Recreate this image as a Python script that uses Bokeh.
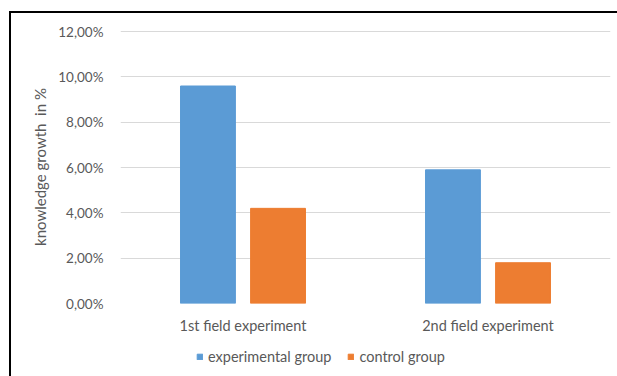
from bokeh.plotting import figure
from bokeh.models import (FactorRange, Range1d, CustomJSTickFormatter, FixedTicker,
                          ColumnDataSource, Legend, LegendItem, Div, Spacer)
from bokeh.layouts import column, row
from bokeh.transform import dodge
from bokeh.embed import file_html
from bokeh.resources import INLINE

categories = ["1st field experiment", "2nd field experiment"]
experimental_group = [9.6, 5.9]
control_group = [4.2, 1.8]
y_ticks = [0, 2, 4, 6, 8, 10, 12]
series_names = ["experimental group", "control group"]
series_colors = ["#5B9BD5", "#ED7D31"]

FONT = "Lato"
TXT = "#595959"

src = ColumnDataSource(dict(cat=categories, exp=experimental_group, ctl=control_group))

# main chart
p = figure(width=606, height=327, x_range=FactorRange(*categories, range_padding=0),
           y_range=Range1d(0, 12.05), output_backend="svg", toolbar_location=None,
           min_border_left=109, min_border_right=7, min_border_top=17, min_border_bottom=37)
p.margin = 0
p.outline_line_color = None
p.background_fill_color = "white"
p.border_fill_color = "white"

p.vbar(x=dodge("cat", -0.143, range=p.x_range), top="exp", width=0.224,
       source=src, color=series_colors[0])
p.vbar(x=dodge("cat", 0.143, range=p.x_range), top="ctl", width=0.224,
       source=src, color=series_colors[1])

p.xgrid.grid_line_color = None
p.ygrid.grid_line_color = "#d9d9d9"
p.ygrid.grid_line_width = 1

yax = p.yaxis[0]
yax.ticker = FixedTicker(ticks=y_ticks)
yax.formatter = CustomJSTickFormatter(code="return tick.toFixed(2).replace('.', ',') + '%';")
yax.axis_line_color = None
yax.major_tick_line_color = None
yax.minor_tick_line_color = None
yax.major_label_text_font = FONT
yax.major_label_text_font_size = "13.5px"
yax.major_label_text_color = TXT
yax.major_label_standoff = 11
yax.axis_label = "knowledge growth\u00a0\u00a0in %"
yax.axis_label_text_font = FONT
yax.axis_label_text_font_size = "15px"
yax.axis_label_text_font_style = "normal"
yax.axis_label_text_color = TXT
yax.axis_label_standoff = 6

xax = p.xaxis[0]
xax.axis_line_color = None
xax.major_tick_line_color = None
xax.minor_tick_line_color = None
xax.major_label_text_font = FONT
xax.major_label_text_font_size = "14.5px"
xax.major_label_text_color = TXT
xax.major_label_standoff = 7

# legend strip below the chart (its frame is aligned with the chart frame)
lg = figure(width=606, height=36, x_range=Range1d(0, 1), y_range=Range1d(0, 1),
            output_backend="svg", toolbar_location=None,
            x_axis_location=None, y_axis_location=None, min_border=0)
lg.margin = 0
lg.outline_line_color = None
lg.grid.grid_line_color = None
lr1 = lg.vbar(x="exp", top="exp", width=0.1, source=src, color=series_colors[0])
lr2 = lg.vbar(x="ctl", top="ctl", width=0.1, source=src, color=series_colors[1])
lr1.visible = False
lr2.visible = False
legend = Legend(items=[LegendItem(label=series_names[0], renderers=[lr1]),
                       LegendItem(label=series_names[1], renderers=[lr2])],
                orientation="horizontal", location=(76, 11),
                label_text_font=FONT, label_text_font_size="14.5px",
                label_text_color=TXT, glyph_width=7, glyph_height=7,
                border_line_color=None, background_fill_alpha=0,
                inactive_fill_alpha=0,
                spacing=16, label_standoff=5, padding=0, margin=0)
lg.add_layout(legend, "center")

# thin black frame lines on top and left (as in the source image)
top_line = Div(width=606, height=2, margin=0, styles={"background-color": "black"})
left_line = Div(width=2, height=365, margin=0, styles={"background-color": "black"})

layout = column(Spacer(height=11, width=617, margin=0),
                row(Spacer(width=9, height=365, margin=0), left_line,
                    column(top_line, p, lg, spacing=0, margin=0), spacing=0, margin=0),
                spacing=0, margin=0)

open("out.html", "w").write(file_html(layout, INLINE))
